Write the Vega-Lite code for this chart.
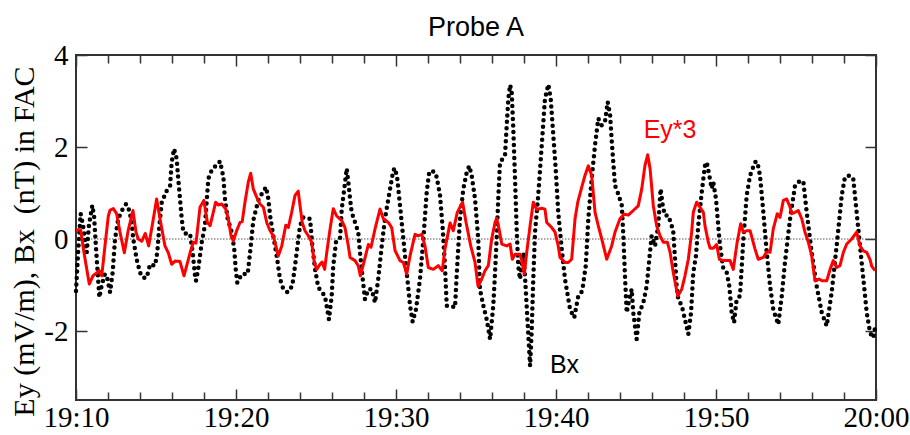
{
  "$schema": "https://vega.github.io/schema/vega-lite/v6.json",
  "autosize": {"type": "none"},
  "padding": {"left": 76, "top": 55, "right": 34, "bottom": 35},
  "width": 800,
  "height": 345,
  "background": "white",
  "title": {"text": "Probe A", "font": "Liberation Sans", "fontSize": 27, "fontWeight": "normal", "color": "black", "anchor": "middle", "offset": -1},
  "config": {
    "view": {"stroke": "#333", "strokeWidth": 2},
    "axis": {"domain": false, "grid": false, "tickColor": "#333", "tickWidth": 1.5, "labelFont": "Liberation Serif", "labelFontSize": 29, "labelColor": "black", "titleFont": "Liberation Serif", "titleFontSize": 30, "titleFontWeight": "normal", "titleColor": "black"}
  },
  "datasets": {
    "bx": [
      {"m":10.00,"v":-1.13},{"m":10.13,"v":-0.3},{"m":10.29,"v":0.55},{"m":10.44,"v":0.3},{"m":10.67,"v":-0.29},{"m":10.81,"v":0.3},{"m":11.02,"v":0.73},{"m":11.13,"v":0.5},{"m":11.25,"v":-0.2},{"m":11.46,"v":-1.27},{"m":11.61,"v":-1.0},{"m":11.81,"v":-0.76},{"m":11.96,"v":-0.87},{"m":12.13,"v":-1.16},{"m":12.29,"v":-0.73},{"m":12.44,"v":0},{"m":12.64,"v":0.44},{"m":12.92,"v":0.65},{"m":13.13,"v":0.76},{"m":13.33,"v":0.62},{"m":13.48,"v":0.36},{"m":13.58,"v":0},{"m":13.79,"v":-0.44},{"m":14.00,"v":-0.73},{"m":14.17,"v":-0.84},{"m":14.42,"v":-0.84},{"m":14.63,"v":-0.55},{"m":14.94,"v":-0.58},{"m":15.08,"v":-0.29},{"m":15.21,"v":0.29},{"m":15.36,"v":0.8},{"m":15.67,"v":1.05},{"m":15.88,"v":1.16},{"m":15.98,"v":1.67},{"m":16.13,"v":1.96},{"m":16.29,"v":1.75},{"m":16.39,"v":1.31},{"m":16.50,"v":0.87},{"m":16.61,"v":0.44},{"m":16.71,"v":0.15},{"m":16.92,"v":0.11},{"m":17.13,"v":0.11},{"m":17.29,"v":-0.29},{"m":17.44,"v":-0.8},{"m":17.50,"v":-0.91},{"m":17.64,"v":-0.65},{"m":17.86,"v":-0.07},{"m":18.06,"v":0.3},{"m":18.27,"v":1.31},{"m":18.52,"v":1.53},{"m":18.79,"v":1.6},{"m":19.00,"v":1.69},{"m":19.21,"v":1.35},{"m":19.31,"v":0.87},{"m":19.48,"v":0.44},{"m":19.73,"v":0.15},{"m":19.89,"v":-0.22},{"m":19.98,"v":-0.65},{"m":20.08,"v":-0.95},{"m":20.36,"v":-0.76},{"m":20.73,"v":-0.76},{"m":20.88,"v":-0.29},{"m":21.08,"v":0.4},{"m":21.39,"v":0.84},{"m":21.61,"v":0.98},{"m":21.88,"v":1.13},{"m":22.02,"v":0.87},{"m":22.13,"v":0.51},{"m":22.33,"v":0.07},{"m":22.54,"v":-0.36},{"m":22.75,"v":-0.87},{"m":22.96,"v":-1.09},{"m":23.23,"v":-1.16},{"m":23.52,"v":-1.02},{"m":23.69,"v":-0.58},{"m":24.00,"v":0.29},{"m":24.21,"v":0.47},{"m":24.63,"v":0.44},{"m":24.77,"v":-0.15},{"m":24.94,"v":-0.65},{"m":25.14,"v":-1.05},{"m":25.56,"v":-1.24},{"m":25.81,"v":-1.75},{"m":25.98,"v":-1.24},{"m":26.08,"v":-0.58},{"m":26.25,"v":-0.07},{"m":26.50,"v":0},{"m":26.61,"v":0.65},{"m":26.92,"v":1.53},{"m":27.02,"v":1.24},{"m":27.13,"v":0.87},{"m":27.23,"v":0.58},{"m":27.44,"v":0.36},{"m":27.64,"v":0.15},{"m":27.75,"v":-0.29},{"m":27.92,"v":-0.87},{"m":28.06,"v":-1.31},{"m":28.27,"v":-1.09},{"m":28.48,"v":-1.09},{"m":28.69,"v":-1.38},{"m":28.89,"v":-0.87},{"m":29.11,"v":-0.15},{"m":29.31,"v":0.44},{"m":29.63,"v":1.09},{"m":29.83,"v":1.49},{"m":29.94,"v":1.54},{"m":30.08,"v":1.31},{"m":30.25,"v":0.73},{"m":30.46,"v":0},{"m":30.67,"v":-0.73},{"m":30.88,"v":-1.45},{"m":31.04,"v":-1.8},{"m":31.25,"v":-1.53},{"m":31.50,"v":-0.87},{"m":31.71,"v":0},{"m":31.92,"v":1.02},{"m":32.08,"v":1.47},{"m":32.38,"v":1.47},{"m":32.54,"v":1.35},{"m":32.75,"v":0.95},{"m":32.92,"v":0.22},{"m":33.06,"v":-0.58},{"m":33.17,"v":-1.45},{"m":33.38,"v":-1.45},{"m":33.69,"v":-1.49},{"m":33.79,"v":-0.8},{"m":34.00,"v":0.44},{"m":34.21,"v":1.09},{"m":34.42,"v":1.45},{"m":34.58,"v":1.59},{"m":34.73,"v":1.38},{"m":34.94,"v":0.87},{"m":35.14,"v":0},{"m":35.25,"v":-1.1},{"m":35.46,"v":-1.45},{"m":35.67,"v":-1.75},{"m":35.88,"v":-2.18},{"m":36.08,"v":-1.45},{"m":36.19,"v":-0.73},{"m":36.29,"v":0},{"m":36.39,"v":0.87},{"m":36.50,"v":1.67},{"m":36.81,"v":1.8},{"m":36.92,"v":2.47},{"m":37.02,"v":3.05},{"m":37.13,"v":3.35},{"m":37.23,"v":3.2},{"m":37.33,"v":2.4},{"m":37.44,"v":1.31},{"m":37.54,"v":0.22},{"m":37.64,"v":-0.58},{"m":37.75,"v":-0.87},{"m":37.96,"v":-0.3},{"m":38.06,"v":-0.8},{"m":38.19,"v":-1.6},{"m":38.38,"v":-2.76},{"m":38.48,"v":-2.0},{"m":38.58,"v":-0.87},{"m":38.69,"v":0.15},{"m":38.89,"v":0.95},{"m":39.11,"v":2.04},{"m":39.31,"v":3.05},{"m":39.52,"v":3.36},{"m":39.67,"v":3.05},{"m":39.83,"v":2.26},{"m":39.98,"v":1.53},{"m":40.14,"v":0.58},{"m":40.36,"v":-0.22},{"m":40.56,"v":-0.87},{"m":40.88,"v":-1.53},{"m":41.14,"v":-1.71},{"m":41.39,"v":-1.24},{"m":41.64,"v":-1.13},{"m":41.86,"v":-0.58},{"m":42.02,"v":0.44},{"m":42.23,"v":1.31},{"m":42.44,"v":2.04},{"m":42.64,"v":2.62},{"m":42.86,"v":2.47},{"m":43.06,"v":2.55},{"m":43.23,"v":2.98},{"m":43.38,"v":2.7},{"m":43.48,"v":2.15},{"m":43.58,"v":1.67},{"m":43.69,"v":1.16},{"m":43.89,"v":0.98},{"m":44.11,"v":0.73},{"m":44.21,"v":0.07},{"m":44.31,"v":-0.8},{"m":44.42,"v":-1.6},{"m":44.58,"v":-1.31},{"m":44.73,"v":-1.09},{"m":44.83,"v":-1.6},{"m":44.94,"v":-1.9},{"m":45.04,"v":-2.18},{"m":45.21,"v":-1.6},{"m":45.46,"v":-1.38},{"m":45.67,"v":-1.02},{"m":45.83,"v":-0.44},{"m":45.98,"v":0.07},{"m":46.19,"v":-0.15},{"m":46.39,"v":0.29},{"m":46.54,"v":1.09},{"m":46.67,"v":0.73},{"m":46.81,"v":0.51},{"m":47.02,"v":0.51},{"m":47.23,"v":0.29},{"m":47.33,"v":0.15},{"m":47.44,"v":-0.44},{"m":47.54,"v":-1.02},{"m":47.64,"v":-1.31},{"m":47.86,"v":-1.45},{"m":48.06,"v":-1.75},{"m":48.27,"v":-2.07},{"m":48.44,"v":-1.6},{"m":48.58,"v":-0.73},{"m":48.75,"v":-0.36},{"m":48.89,"v":0.29},{"m":49.11,"v":1.02},{"m":49.31,"v":1.6},{"m":49.42,"v":1.67},{"m":49.58,"v":1.38},{"m":49.73,"v":1.1},{"m":49.83,"v":1.24},{"m":50.00,"v":0.87},{"m":50.14,"v":0.29},{"m":50.25,"v":-0.15},{"m":50.46,"v":-0.65},{"m":50.67,"v":-0.73},{"m":50.83,"v":-1.02},{"m":50.98,"v":-1.6},{"m":51.13,"v":-1.82},{"m":51.29,"v":-1.31},{"m":51.50,"v":-1.24},{"m":51.71,"v":0},{"m":51.92,"v":0.95},{"m":52.13,"v":1.38},{"m":52.44,"v":1.67},{"m":52.58,"v":1.68},{"m":52.75,"v":1.38},{"m":52.96,"v":0.58},{"m":53.17,"v":-0.29},{"m":53.38,"v":-1.02},{"m":53.58,"v":-1.53},{"m":53.89,"v":-1.86},{"m":54.11,"v":-1.24},{"m":54.31,"v":-0.51},{"m":54.63,"v":0.44},{"m":54.94,"v":1.16},{"m":55.25,"v":1.27},{"m":55.46,"v":1.24},{"m":55.67,"v":0.58},{"m":55.98,"v":-0.29},{"m":56.29,"v":-1.02},{"m":56.61,"v":-1.6},{"m":56.92,"v":-1.89},{"m":57.23,"v":-1.16},{"m":57.54,"v":-0.15},{"m":57.86,"v":0.95},{"m":58.06,"v":1.35},{"m":58.38,"v":1.38},{"m":58.58,"v":1.31},{"m":58.79,"v":0.58},{"m":59.00,"v":-0.15},{"m":59.21,"v":-0.87},{"m":59.42,"v":-1.6},{"m":59.63,"v":-2.04},{"m":59.83,"v":-2.15},{"m":59.98,"v":-1.85}
    ],
    "ey": [
      {"m":10.00,"v":0.2},{"m":10.29,"v":0.2},{"m":10.50,"v":-0.3},{"m":10.83,"v":-0.98},{"m":11.06,"v":-0.8},{"m":11.25,"v":-0.75},{"m":11.46,"v":-0.69},{"m":11.61,"v":-0.8},{"m":11.81,"v":-0.15},{"m":12.02,"v":0.5},{"m":12.13,"v":0.63},{"m":12.33,"v":0.66},{"m":12.54,"v":0.55},{"m":12.75,"v":0.15},{"m":13.02,"v":-0.3},{"m":13.27,"v":0.2},{"m":13.56,"v":0.62},{"m":13.75,"v":0.15},{"m":13.89,"v":0.0},{"m":14.11,"v":-0.05},{"m":14.33,"v":0.12},{"m":14.54,"v":-0.15},{"m":14.79,"v":0.35},{"m":15.04,"v":0.87},{"m":15.25,"v":0.44},{"m":15.56,"v":-0.15},{"m":15.77,"v":-0.3},{"m":15.98,"v":-0.55},{"m":16.19,"v":-0.48},{"m":16.50,"v":-0.49},{"m":16.75,"v":-0.8},{"m":16.92,"v":-0.58},{"m":17.13,"v":-0.3},{"m":17.33,"v":-0.07},{"m":17.50,"v":-0.09},{"m":17.75,"v":0.69},{"m":17.99,"v":0.84},{"m":18.21,"v":0.36},{"m":18.38,"v":0.29},{"m":18.58,"v":0.58},{"m":18.73,"v":0.8},{"m":18.89,"v":0.74},{"m":19.11,"v":0.76},{"m":19.36,"v":0.65},{"m":19.52,"v":0.44},{"m":19.69,"v":0.07},{"m":19.83,"v":-0.04},{"m":20.04,"v":0.18},{"m":20.25,"v":0.36},{"m":20.39,"v":0.38},{"m":20.56,"v":0.8},{"m":20.77,"v":1.24},{"m":20.92,"v":1.43},{"m":21.08,"v":1.09},{"m":21.29,"v":0.91},{"m":21.50,"v":0.76},{"m":21.71,"v":0.69},{"m":21.92,"v":0.36},{"m":22.13,"v":0.18},{"m":22.33,"v":0.07},{"m":22.54,"v":-0.22},{"m":22.64,"v":-0.37},{"m":22.86,"v":-0.15},{"m":23.11,"v":0.3},{"m":23.27,"v":0.25},{"m":23.48,"v":0.58},{"m":23.69,"v":0.95},{"m":23.89,"v":1.04},{"m":24.00,"v":0.73},{"m":24.14,"v":0.36},{"m":24.31,"v":0.18},{"m":24.52,"v":0.07},{"m":24.73,"v":-0.07},{"m":24.89,"v":-0.5},{"m":25.04,"v":-0.66},{"m":25.25,"v":-0.55},{"m":25.38,"v":-0.5},{"m":25.54,"v":-0.66},{"m":25.67,"v":-0.3},{"m":25.88,"v":0.22},{"m":26.08,"v":0.66},{"m":26.29,"v":0.5},{"m":26.61,"v":0.4},{"m":26.81,"v":0.25},{"m":27.02,"v":-0.15},{"m":27.13,"v":-0.4},{"m":27.44,"v":-0.47},{"m":27.64,"v":-0.58},{"m":27.77,"v":-0.8},{"m":28.00,"v":-0.5},{"m":28.27,"v":-0.12},{"m":28.44,"v":-0.18},{"m":28.69,"v":0.22},{"m":29.00,"v":0.65},{"m":29.21,"v":0.44},{"m":29.52,"v":0.36},{"m":29.73,"v":0.25},{"m":29.94,"v":-0.25},{"m":30.25,"v":-0.47},{"m":30.46,"v":-0.51},{"m":30.67,"v":-0.76},{"m":30.88,"v":-0.36},{"m":31.19,"v":0.1},{"m":31.39,"v":0.07},{"m":31.61,"v":0.1},{"m":31.81,"v":-0.15},{"m":32.02,"v":-0.62},{"m":32.33,"v":-0.66},{"m":32.64,"v":-0.58},{"m":32.89,"v":-0.69},{"m":33.06,"v":-0.22},{"m":33.38,"v":0.35},{"m":33.58,"v":0.18},{"m":33.83,"v":0.58},{"m":34.16,"v":0.8},{"m":34.38,"v":0.36},{"m":34.67,"v":-0.15},{"m":34.94,"v":-0.51},{"m":35.13,"v":-1.03},{"m":35.36,"v":-0.87},{"m":35.56,"v":-0.69},{"m":35.77,"v":-0.58},{"m":35.98,"v":0.0},{"m":36.19,"v":0.36},{"m":36.29,"v":0.45},{"m":36.44,"v":0.22},{"m":36.61,"v":-0.11},{"m":36.92,"v":-0.15},{"m":37.13,"v":-0.11},{"m":37.27,"v":-0.44},{"m":37.44,"v":-0.33},{"m":37.75,"v":-0.33},{"m":37.86,"v":-0.47},{"m":38.02,"v":-0.76},{"m":38.17,"v":-0.29},{"m":38.38,"v":0.29},{"m":38.58,"v":0.8},{"m":38.79,"v":0.64},{"m":39.11,"v":0.67},{"m":39.31,"v":0.65},{"m":39.42,"v":0.36},{"m":39.73,"v":0.25},{"m":39.94,"v":0.15},{"m":40.14,"v":-0.15},{"m":40.25,"v":-0.4},{"m":40.56,"v":-0.51},{"m":40.77,"v":-0.51},{"m":40.98,"v":-0.44},{"m":41.19,"v":0.44},{"m":41.36,"v":0.8},{"m":41.61,"v":1.13},{"m":41.81,"v":1.38},{"m":42.02,"v":1.59},{"m":42.23,"v":1.38},{"m":42.44,"v":0.58},{"m":42.64,"v":0.29},{"m":42.86,"v":0.0},{"m":43.17,"v":-0.44},{"m":43.48,"v":-0.15},{"m":43.69,"v":0.15},{"m":44.00,"v":0.44},{"m":44.25,"v":0.54},{"m":44.52,"v":0.52},{"m":44.83,"v":0.62},{"m":45.14,"v":0.72},{"m":45.36,"v":1.09},{"m":45.56,"v":1.6},{"m":45.73,"v":1.83},{"m":45.88,"v":1.53},{"m":46.08,"v":0.73},{"m":46.29,"v":0.29},{"m":46.50,"v":0.07},{"m":46.71,"v":-0.07},{"m":46.96,"v":-0.07},{"m":47.13,"v":-0.29},{"m":47.33,"v":-0.73},{"m":47.61,"v":-1.24},{"m":47.86,"v":-1.09},{"m":48.06,"v":-0.8},{"m":48.27,"v":-0.44},{"m":48.48,"v":0.15},{"m":48.58,"v":0.58},{"m":48.79,"v":0.8},{"m":49.00,"v":0.69},{"m":49.21,"v":0.58},{"m":49.31,"v":0.29},{"m":49.52,"v":-0.07},{"m":49.63,"v":-0.2},{"m":49.83,"v":-0.2},{"m":50.04,"v":-0.12},{"m":50.21,"v":-0.44},{"m":50.46,"v":-0.47},{"m":50.88,"v":-0.47},{"m":51.08,"v":-0.66},{"m":51.31,"v":-0.1},{"m":51.54,"v":0.33},{"m":51.71,"v":0.15},{"m":51.94,"v":0.18},{"m":52.13,"v":0.18},{"m":52.44,"v":-0.22},{"m":52.64,"v":-0.44},{"m":52.96,"v":-0.4},{"m":53.17,"v":-0.28},{"m":53.38,"v":-0.29},{"m":53.58,"v":0.22},{"m":53.83,"v":0.55},{"m":54.00,"v":0.47},{"m":54.21,"v":0.84},{"m":54.42,"v":0.87},{"m":54.63,"v":0.69},{"m":54.73,"v":0.55},{"m":54.94,"v":0.58},{"m":55.14,"v":0.62},{"m":55.36,"v":0.44},{"m":55.56,"v":0.15},{"m":55.77,"v":-0.07},{"m":55.98,"v":-0.36},{"m":56.19,"v":-0.91},{"m":56.44,"v":-0.87},{"m":56.64,"v":-0.91},{"m":56.92,"v":-0.91},{"m":57.13,"v":-0.66},{"m":57.33,"v":-0.47},{"m":57.54,"v":-0.62},{"m":57.75,"v":-0.58},{"m":57.96,"v":-0.29},{"m":58.17,"v":-0.11},{"m":58.48,"v":0.0},{"m":58.79,"v":0.15},{"m":59.00,"v":-0.15},{"m":59.21,"v":-0.26},{"m":59.42,"v":-0.29},{"m":59.63,"v":-0.45},{"m":59.73,"v":-0.59},{"m":59.94,"v":-0.69}
    ],
    "labels": [
      {"m": 47.13, "v": 2.2, "label": "Ey*3", "series": "Ey"},
      {"m": 40.53, "v": -2.92, "label": "Bx", "series": "Bx"}
    ]
  },
  "resolve": {"axis": {"x": "independent", "y": "independent"}},
  "layer": [
    {
      "data": {"values": [{}]},
      "mark": {"type": "rule", "color": "#555", "strokeWidth": 1, "strokeDash": [1.5, 1.5]},
      "encoding": {
        "x": {"datum": 10, "type": "quantitative", "scale": {"domain": [10, 60], "nice": false, "zero": false}, "axis": {"orient": "bottom", "values": [12,14,16,18,22,24,26,28,32,34,36,38,42,44,46,48,52,54,56,58], "tickSize": -8, "labels": false, "title": null}},
        "x2": {"datum": 60},
        "y": {"datum": 0, "type": "quantitative", "scale": {"domain": [-3.5, 4], "nice": false, "zero": false}, "axis": null}
      }
    },
    {
      "data": {"name": "bx"},
      "mark": {"type": "line", "color": "black", "strokeWidth": 4.5, "strokeCap": "round", "strokeDash": [0, 6.5]},
      "encoding": {
        "x": {"field": "m", "type": "quantitative", "scale": {"domain": [10, 60], "nice": false, "zero": false}, "axis": {"orient": "bottom", "values": [10, 20, 30, 40, 50, 60], "tickSize": -11, "labelPadding": 14, "labelExpr": "datum.value == 60 ? '20:00' : '19:' + datum.value", "labelOverlap": false, "labelFlush": false, "labelBound": false, "title": null}},
        "y": {"field": "v", "type": "quantitative", "scale": {"domain": [-3.5, 4], "nice": false, "zero": false}, "axis": {"orient": "left", "values": [-2, 0, 2, 4], "tickSize": -11, "labelPadding": 19, "labelExpr": "'' + datum.value", "labelOverlap": false, "labelFlush": false, "title": "Ey (mV/m), Bx\u00a0\u00a0(nT) in FAC", "titleAngle": 270, "titleAlign": "center", "titleBaseline": "alphabetic", "titleX": -43, "titleY": 186}}
      }
    },
    {
      "data": {"name": "ey"},
      "mark": {"type": "line", "color": "#ff0000", "strokeWidth": 3, "strokeJoin": "round"},
      "encoding": {
        "x": {"field": "m", "type": "quantitative", "scale": {"domain": [10, 60], "nice": false, "zero": false}, "axis": {"orient": "top", "values": [10, 20, 30, 40, 50, 60], "tickSize": -11, "labels": false, "title": null}},
        "y": {"field": "v", "type": "quantitative", "scale": {"domain": [-3.5, 4], "nice": false, "zero": false}, "axis": {"orient": "right", "values": [-2, 0, 2, 4], "tickSize": -11, "labels": false, "title": null}}
      }
    },
    {
      "data": {"name": "labels"},
      "mark": {"type": "text", "font": "Liberation Sans", "fontSize": 25, "align": "center", "baseline": "alphabetic"},
      "encoding": {
        "x": {"field": "m", "type": "quantitative", "scale": {"domain": [10, 60], "nice": false, "zero": false}, "axis": {"orient": "top", "values": [12,14,16,18,22,24,26,28,32,34,36,38,42,44,46,48,52,54,56,58], "tickSize": -8, "labels": false, "title": null}},
        "y": {"field": "v", "type": "quantitative", "scale": {"domain": [-3.5, 4], "nice": false, "zero": false}, "axis": null},
        "text": {"field": "label"},
        "color": {"field": "series", "type": "nominal", "scale": {"domain": ["Ey", "Bx"], "range": ["#ff0000", "black"]}, "legend": null}
      }
    }
  ]
}
